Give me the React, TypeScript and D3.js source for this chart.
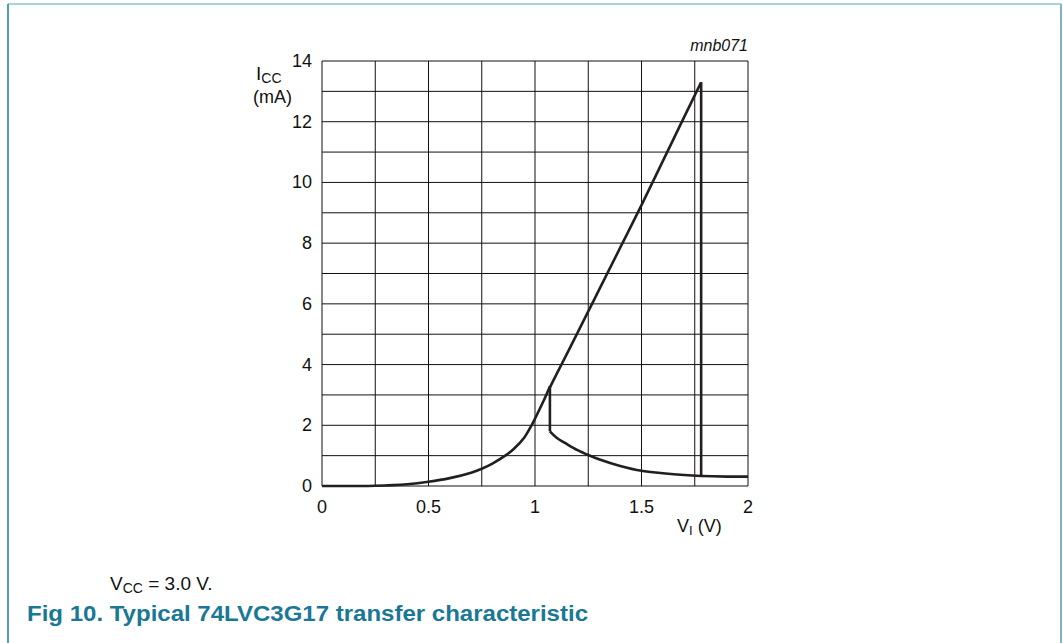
import { useEffect, useRef } from 'react';
import * as d3 from 'd3';

// V_I (V) ticks and I_CC (mA) ticks
const xTicks = [0, 0.5, 1, 1.5, 2];
const yTicks = [0, 2, 4, 6, 8, 10, 12, 14];

// main trace: rise, drop at ~1.07 V, decay to 2 V
const mainV = [0, 0.25, 0.4, 0.5, 0.6, 0.7, 0.75, 0.8, 0.86, 0.9, 0.95, 0.984, 1.0, 1.04, 1.07, 1.07, 1.1, 1.15, 1.2, 1.25, 1.3, 1.4, 1.5, 1.6, 1.7, 1.78, 1.9, 2.0];
const mainI = [0, 0.01, 0.06, 0.14, 0.26, 0.44, 0.57, 0.74, 1.0, 1.22, 1.6, 2.0, 2.22, 2.8, 3.28, 1.8, 1.6, 1.38, 1.18, 1.02, 0.88, 0.66, 0.5, 0.42, 0.36, 0.33, 0.31, 0.31];

// upper branch: from 1.07 V up to 1.78 V then vertical drop
const upperV = [1.07, 1.1, 1.164, 1.25, 1.3, 1.4, 1.5, 1.6, 1.7, 1.78, 1.78];
const upperI = [3.25, 3.67, 4.55, 5.75, 6.45, 7.85, 9.25, 10.7, 12.15, 13.3, 0.33];

export default function App() {
    const svgRef = useRef<SVGSVGElement>(null);

    useEffect(() => {
        if (!svgRef.current) return;
        const svg = d3.select(svgRef.current);
        svg.selectAll('*').remove();

        const font = 'Liberation Sans, Arial, sans-serif';
        const x = d3.scaleLinear().domain([0, 2]).range([322, 748]);
        const y = d3.scaleLinear().domain([0, 14]).range([486, 61]);

        // frame of the page
        svg.append('line').attr('x1', 8).attr('x2', 1061).attr('y1', 4).attr('y2', 4)
            .attr('stroke', '#8cc3d0').attr('stroke-width', 1.5);
        svg.append('line').attr('x1', 8).attr('x2', 8).attr('y1', 4).attr('y2', 643)
            .attr('stroke', '#1a7f99').attr('stroke-width', 1.5);
        svg.append('line').attr('x1', 1061).attr('x2', 1061).attr('y1', 4).attr('y2', 643)
            .attr('stroke', '#7ab8c8').attr('stroke-width', 2);

        // grid
        const g = svg.append('g');
        g.selectAll('.vg').data(d3.range(0, 2.0001, 0.25)).enter().append('line')
            .attr('x1', d => x(d)).attr('x2', d => x(d))
            .attr('y1', y(0)).attr('y2', y(14))
            .attr('stroke', '#111').attr('stroke-width', 1);
        g.selectAll('.hg').data(d3.range(0, 14.001, 1)).enter().append('line')
            .attr('x1', x(0)).attr('x2', x(2))
            .attr('y1', d => y(d)).attr('y2', d => y(d))
            .attr('stroke', '#111').attr('stroke-width', 1);

        // tick labels
        g.selectAll('.yt').data(yTicks).enter().append('text')
            .attr('x', 312).attr('y', d => y(d) + 6)
            .attr('text-anchor', 'end')
            .style('font-family', font).style('font-size', '18px').style('fill', '#111')
            .text(d => d);
        g.selectAll('.xt').data(xTicks).enter().append('text')
            .attr('x', d => x(d)).attr('y', 513)
            .attr('text-anchor', 'middle')
            .style('font-family', font).style('font-size', '18px').style('fill', '#111')
            .text(d => d);

        // axis titles
        const yl = g.append('text').attr('x', 256).attr('y', 80)
            .style('font-family', font).style('font-size', '19px').style('fill', '#111');
        yl.append('tspan').text('I');
        yl.append('tspan').attr('dy', 3).style('font-size', '14px').text('CC');
        g.append('text').attr('x', 253).attr('y', 103)
            .style('font-family', font).style('font-size', '18px').style('fill', '#111')
            .text('(mA)');

        const xl = g.append('text').attr('x', 677).attr('y', 532)
            .style('font-family', font).style('font-size', '18px').style('fill', '#111');
        xl.append('tspan').text('V');
        xl.append('tspan').attr('dy', 3).style('font-size', '13px').text('I');
        xl.append('tspan').attr('dy', -3).text(' (V)');

        g.append('text').attr('x', 748).attr('y', 51)
            .attr('text-anchor', 'end')
            .style('font-family', font).style('font-size', '16px').style('font-style', 'italic').style('fill', '#111')
            .text('mnb071');

        // curves
        const line = d3.line<[number, number]>().x(d => x(d[0])).y(d => y(d[1])).curve(d3.curveLinear);
        const smooth = d3.line<[number, number]>().x(d => x(d[0])).y(d => y(d[1])).curve(d3.curveCatmullRom.alpha(0.5));
        const mainPts = mainV.map((v, i) => [v, mainI[i]] as [number, number]);
        const upperPts = upperV.map((v, i) => [v, upperI[i]] as [number, number]);
        const stroke = (p: d3.Selection<SVGPathElement, unknown, null, undefined>) =>
            p.attr('fill', 'none').attr('stroke', '#231f20').attr('stroke-width', 2.6).attr('stroke-linejoin', 'round');

        // rising part, drop, decay
        g.append('path').attr('d', smooth(mainPts.slice(0, 15))).call(stroke);
        g.append('path').attr('d', line(mainPts.slice(14, 16))).call(stroke);
        g.append('path').attr('d', smooth(mainPts.slice(15))).call(stroke);
        g.append('path').attr('d', smooth(upperPts.slice(0, 10))).call(stroke);
        g.append('path').attr('d', line(upperPts.slice(9))).call(stroke);

        // notes
        const note = svg.append('text').attr('x', 110).attr('y', 590)
            .style('font-family', font).style('font-size', '19px').style('fill', '#111');
        note.append('tspan').text('V');
        note.append('tspan').attr('dy', 3).style('font-size', '14px').text('CC');
        note.append('tspan').attr('dy', -3).text(' = 3.0 V.');

        svg.append('text').attr('x', 27).attr('y', 621)
            .attr('textLength', 561).attr('lengthAdjust', 'spacingAndGlyphs')
            .style('font-family', font).style('font-size', '22px').style('font-weight', 'bold')
            .style('fill', '#1a7896')
            .text('Fig 10.  Typical 74LVC3G17 transfer characteristic');
    }, []);

    return (
        <svg ref={svgRef} width={1063} height={643}
            style={{ position: 'absolute', left: 0, top: 0, background: '#fff' }}></svg>
    );
}
